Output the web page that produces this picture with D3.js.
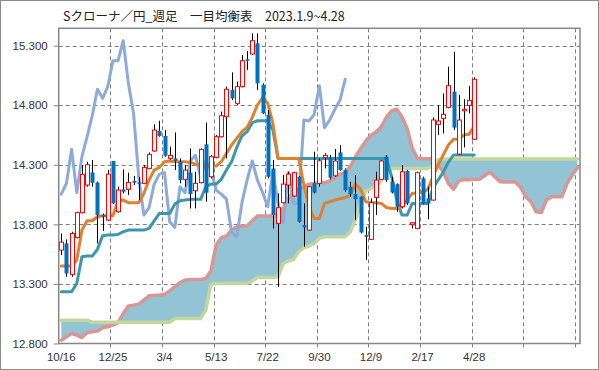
<!DOCTYPE html>
<html>
<head>
<meta charset="utf-8">
<script src="https://cdn.jsdelivr.net/npm/d3@7"></script>
<style>
  body { margin: 0; background: #fff; }
  svg { display: block; }
</style>
</head>
<body>
<svg width="599" height="370"></svg>
<script>
const title = "Sクローナ／円_週足　一目均衡表　2023.1.9~4.28";
const yTicks = [12.8, 13.3, 13.8, 14.3, 14.8, 15.3];
const xLabels = ["10/16", "12/25", "3/4", "5/13", "7/22", "9/30", "12/9", "2/17", "4/28"];
const nCats = 101; // 81 weeks + cloud projected ahead

// weekly candles
const opens = [13.584,13.640,13.380,13.690,13.898,14.130,14.236,14.152,13.878,13.836,
  14.332,13.906,14.094,14.094,14.164,14.152,14.144,14.270,14.416,14.584,
  14.542,14.354,14.354,14.326,14.178,14.234,14.082,14.150,14.472,14.200,
  14.362,14.536,14.704,14.928,14.816,14.956,15.186,15.230,15.320,14.970,
  14.718,14.270,13.808,13.982,14.130,14.038,14.200,13.794,13.752,14.144,
  14.144,14.360,14.360,14.208,14.404,14.256,14.116,14.054,14.032,13.710,
  13.674,14.026,14.178,14.368,14.158,14.138,13.948,14.248,13.797,13.766,
  14.186,14.018,14.004,14.640,14.690,14.782,14.914,14.390,14.754,14.799,
  14.514];
const highs = [13.724,13.674,13.738,13.906,14.298,14.326,14.340,14.158,13.892,14.256,
  14.332,14.116,14.262,14.234,14.206,14.200,14.298,14.404,14.640,14.670,
  14.592,14.452,14.572,14.354,14.298,14.438,14.242,14.438,14.654,14.382,
  14.550,14.746,14.956,15.076,14.998,15.222,15.256,15.404,15.404,14.984,
  14.760,14.340,14.060,14.214,14.242,14.242,14.206,13.976,14.122,14.410,
  14.354,14.396,14.382,14.432,14.466,14.270,14.158,14.214,14.038,13.780,
  14.018,14.242,14.340,14.382,14.200,14.144,14.298,14.256,13.819,14.242,
  14.200,14.116,14.698,14.799,14.900,15.124,15.250,14.886,14.850,14.962,
  15.034];
const lows = [13.542,13.360,13.360,13.682,13.892,14.116,14.116,13.640,13.744,13.830,
  13.970,13.898,14.060,14.046,14.130,14.004,14.138,14.262,14.410,14.536,
  14.368,14.340,14.256,14.144,14.116,13.934,13.934,14.144,13.990,14.186,
  14.354,14.530,14.354,14.844,14.802,14.950,15.096,15.222,14.928,14.726,
  14.186,13.766,13.276,13.976,13.976,14.032,13.814,13.612,13.746,14.060,
  14.116,14.270,14.178,14.200,14.250,14.074,14.032,13.836,13.724,13.500,
  13.668,13.878,14.172,14.158,14.060,13.906,13.934,13.962,13.766,13.760,
  13.970,13.842,13.998,14.550,14.564,14.774,14.592,14.382,14.446,14.732,
  14.508];
const closes = [13.651,13.388,13.724,13.898,14.220,14.301,14.150,13.878,13.864,14.222,
  13.976,14.088,14.074,14.152,14.150,14.141,14.278,14.388,14.592,14.542,
  14.376,14.379,14.334,14.172,14.256,14.054,14.144,14.430,14.066,14.368,
  14.536,14.712,14.934,14.858,14.956,15.174,15.174,15.342,14.984,14.732,
  14.200,13.878,13.940,14.138,14.222,14.234,13.822,13.774,14.116,14.066,
  14.334,14.379,14.192,14.332,14.256,14.088,14.054,14.012,13.732,13.696,
  13.982,14.172,14.332,14.172,14.068,13.948,14.242,13.976,13.814,14.234,
  13.976,13.976,14.676,14.668,14.724,14.964,14.612,14.676,14.766,14.841,
  15.018];

// 転換線
const tenkan = [13.450,13.450,13.450,13.500,13.752,13.830,13.830,13.864,13.872,13.872,
  13.872,13.998,14.004,13.982,13.982,13.982,14.060,14.172,14.256,14.278,
  14.326,14.332,14.326,14.326,14.326,14.320,14.306,14.298,14.290,14.290,
  14.290,14.326,14.396,14.466,14.522,14.578,14.614,14.698,14.802,14.864,
  14.816,14.648,14.354,14.354,14.354,14.354,14.354,14.130,13.948,13.850,
  13.850,13.976,13.990,14.004,14.015,14.024,14.046,14.138,14.094,13.990,
  13.982,13.982,13.976,13.942,13.934,13.934,13.948,14.004,14.060,14.066,
  14.068,14.094,14.200,14.298,14.382,14.466,14.514,14.514,14.550,14.556,
  14.626];
// 基準線
const kijun = [13.234,13.234,13.234,13.304,13.528,13.534,13.534,13.590,13.704,13.710,
  13.710,13.716,13.738,13.752,13.752,13.752,13.752,13.766,13.830,13.892,
  13.892,13.892,13.970,13.998,14.004,14.010,14.010,14.010,14.116,14.138,
  14.138,14.178,14.256,14.326,14.446,14.542,14.578,14.654,14.670,14.670,
  14.670,14.592,14.354,14.354,14.354,14.354,14.354,14.354,14.354,14.354,
  14.354,14.354,14.354,14.354,14.354,14.354,14.354,14.354,14.354,14.354,
  14.354,14.354,14.354,14.354,14.200,14.004,13.878,13.878,13.976,13.976,
  13.976,13.976,14.102,14.172,14.236,14.323,14.382,14.382,14.382,14.382,
  14.382];
// 遅行スパン (starts at first category)
const chikou = [14.054,14.144,14.430,14.066,14.368,14.536,14.712,14.934,14.858,14.956,
  15.174,15.174,15.342,14.984,14.732,14.200,13.878,13.940,14.138,14.222,
  14.234,13.822,13.774,14.116,14.066,14.334,14.379,14.192,14.332,14.256,
  14.088,14.054,14.012,13.732,13.696,13.982,14.172,14.332,14.172,14.068,
  13.948,14.242,13.976,13.814,14.234,13.976,13.976,14.676,14.668,14.724,
  14.964,14.612,14.676,14.766,14.841,15.018];
// 先行スパン1
const senkouA = [12.828,12.856,12.884,12.870,12.850,12.890,12.898,12.904,12.932,12.940,
  12.954,12.974,13.052,13.114,13.122,13.130,13.164,13.200,13.206,13.206,
  13.212,13.242,13.276,13.312,13.332,13.338,13.338,13.338,13.346,13.410,
  13.626,13.688,13.702,13.752,13.780,13.786,13.786,13.830,13.870,13.870,
  13.870,13.870,13.878,13.934,14.018,14.074,14.096,14.116,14.138,14.144,
  14.155,14.150,14.164,14.192,14.222,14.234,14.284,14.368,14.435,14.500,
  14.547,14.575,14.620,14.698,14.754,14.766,14.704,14.606,14.438,14.354,
  14.351,14.351,14.351,14.298,14.242,14.144,14.094,14.166,14.175,14.175,
  14.178,14.178,14.208,14.239,14.200,14.158,14.155,14.155,14.155,14.110,
  14.032,13.990,13.906,13.900,14.004,14.032,14.032,14.032,14.144,14.214,
  14.276];
// 先行スパン2
const senkouB = [12.996,12.996,12.996,12.996,12.996,12.996,12.979,12.979,12.979,12.979,
  12.979,12.979,12.979,12.979,12.979,12.979,12.979,12.979,12.979,12.979,
  12.979,12.979,13.010,13.010,13.010,13.010,13.010,13.010,13.080,13.298,
  13.304,13.304,13.304,13.304,13.304,13.304,13.304,13.326,13.354,13.354,
  13.354,13.354,13.360,13.472,13.494,13.506,13.570,13.606,13.618,13.640,
  13.682,13.696,13.696,13.696,13.696,13.696,13.738,13.842,13.976,14.082,
  14.102,14.122,14.172,14.250,14.270,14.270,14.270,14.270,14.270,14.270,
  14.270,14.270,14.298,14.340,14.348,14.348,14.348,14.348,14.348,14.348,
  14.348,14.348,14.348,14.348,14.348,14.348,14.348,14.348,14.348,14.348,
  14.348,14.348,14.348,14.348,14.348,14.348,14.348,14.348,14.348,14.348,
  14.348];

const svg = d3.select("svg");
const W = +svg.attr("width"), H = +svg.attr("height");
const plotL = 58.7, plotR = 580, plotT = 28.3, plotB = 343.5;

const x = d3.scaleBand().domain(d3.range(nCats)).range([plotL, plotR]).padding(0);
const cx = (i) => x(i) + x.bandwidth() / 2;
const y = d3.scaleLinear().domain([12.8, 15.446]).range([plotB, plotT]);

// outer frame
svg.append("rect")
  .attr("x", 0.5).attr("y", 0.5)
  .attr("width", W - 1).attr("height", H - 1)
  .attr("fill", "#fff").attr("stroke", "#8c8c8c");

svg.append("text")
  .attr("x", 63).attr("y", 21)
  .attr("font-family", "'Noto Sans CJK JP', sans-serif")
  .attr("font-size", 12.5)
  .attr("fill", "#222")
  .text(title);

// grid
const grid = svg.append("g")
  .attr("stroke", "#7f7f7f").attr("stroke-width", 1).attr("stroke-dasharray", "4,3");
grid.selectAll("line.h")
  .data(yTicks.slice(1))
  .join("line")
  .attr("class", "h")
  .attr("x1", plotL).attr("x2", plotR)
  .attr("y1", (d) => Math.round(y(d)) + 0.5).attr("y2", (d) => Math.round(y(d)) + 0.5);
const boundaries = d3.range(10, nCats, 10);
grid.selectAll("line.v")
  .data(boundaries)
  .join("line")
  .attr("class", "v")
  .attr("x1", (d) => Math.round(x(d)) + 0.5).attr("x2", (d) => Math.round(x(d)) + 0.5)
  .attr("y1", plotT).attr("y2", plotB + 5);

// cloud
svg.append("path")
  .datum(d3.range(nCats))
  .attr("fill", "#92c4d6")
  .attr("d", d3.area()
    .x((i) => cx(i))
    .y0((i) => y(senkouB[i]))
    .y1((i) => y(senkouA[i])));

function drawLine(values, color, width) {
  svg.append("path")
    .datum(values)
    .attr("fill", "none")
    .attr("stroke", color)
    .attr("stroke-width", width)
    .attr("stroke-linejoin", "round")
    .attr("stroke-linecap", "round")
    .attr("d", d3.line().x((d, i) => cx(i)).y((d) => y(d)));
}

drawLine(senkouA, "#d99694", 3.5);
drawLine(senkouB, "#c3d69b", 3.5);
drawLine(chikou, "#8eaad8", 3);
drawLine(kijun, "#3b97ab", 3);
drawLine(tenkan, "#e0812f", 3);

// candles
const candles = svg.append("g")
  .selectAll("g")
  .data(d3.range(opens.length))
  .join("g");
candles.append("line")
  .attr("x1", (i) => Math.round(cx(i)) + 0.5).attr("x2", (i) => Math.round(cx(i)) + 0.5)
  .attr("y1", (i) => y(highs[i])).attr("y2", (i) => y(lows[i]))
  .attr("stroke", "#000").attr("stroke-width", 1);
candles.append("rect")
  .attr("x", (i) => Math.round(cx(i)) - 1.5)
  .attr("width", 4)
  .attr("y", (i) => y(Math.max(opens[i], closes[i])))
  .attr("height", (i) => Math.max(1.5, Math.abs(y(opens[i]) - y(closes[i]))))
  .attr("fill", (i) => closes[i] >= opens[i] ? "#fff" : "#0070c0")
  .attr("stroke", (i) => closes[i] >= opens[i] ? "#ff0000" : "none")
  .attr("stroke-width", 1);

// plot frame
svg.append("rect")
  .attr("x", plotL).attr("y", plotT)
  .attr("width", plotR - plotL).attr("height", plotB - plotT)
  .attr("fill", "none").attr("stroke", "#868686").attr("stroke-width", 1.5);

// y axis
const yAxis = svg.append("g")
  .attr("transform", `translate(${plotL},0)`)
  .call(d3.axisLeft(y).tickValues(yTicks).tickFormat(d3.format(".3f")).tickSize(5).tickPadding(6));
yAxis.select(".domain").remove();
yAxis.selectAll(".tick line").attr("stroke", "#868686");
yAxis.selectAll("text")
  .attr("font-family", "'Liberation Sans', Arial, sans-serif")
  .attr("font-size", 11.5).attr("fill", "#333");

// x labels every 10 weeks
svg.append("g")
  .selectAll("text")
  .data(xLabels)
  .join("text")
  .attr("x", (d, k) => cx(k * 10))
  .attr("y", plotB + 17)
  .attr("text-anchor", "middle")
  .attr("font-family", "'Liberation Sans', Arial, sans-serif")
  .attr("font-size", 11.5).attr("fill", "#333")
  .text((d) => d);
</script>
</body>
</html>
